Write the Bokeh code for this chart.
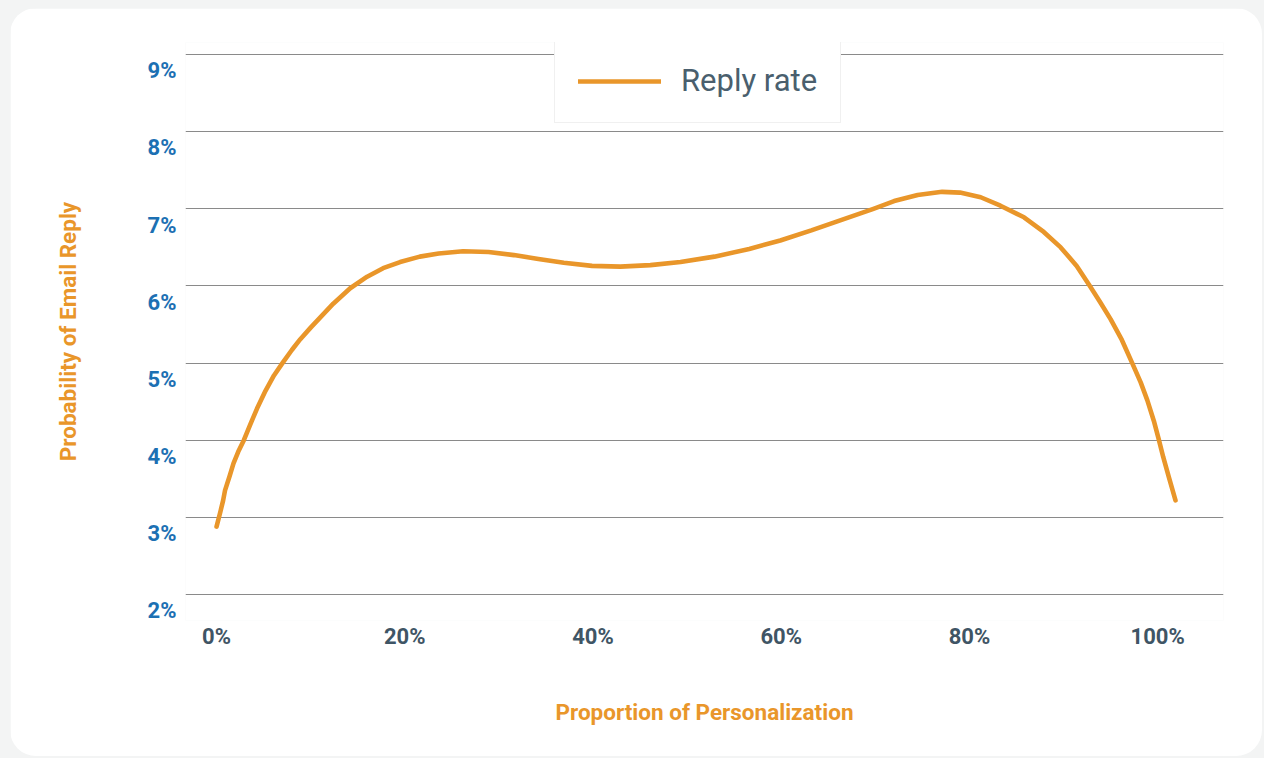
from bokeh.plotting import figure
from bokeh.models import Range1d, FixedTicker, Legend, LegendItem
from bokeh.embed import file_html
from bokeh.resources import INLINE

# Data (proportion of personalization %, reply probability %)
personalization = [0.0, 0.4, 0.7, 0.9, 1.4, 1.8, 2.3, 2.9, 3.6, 4.3, 5.2, 6.1, 7.0,
                   8.0, 8.9, 10.0, 11.0, 12.4, 14.2, 16.0, 17.7, 19.5, 21.6,
                   23.6, 26.2, 28.9, 31.6, 34.2, 36.9, 39.9, 42.9, 46.1, 49.3,
                   52.9, 56.6, 59.9, 63.2, 66.5, 69.8, 72.0, 74.5, 77.1, 79.0, 81.2,
                   83.3, 85.8, 87.9, 89.7, 91.4, 92.8, 93.9, 95.0, 96.2, 97.3,
                   98.2, 98.9, 99.6, 100.1, 100.6, 101.2, 101.9]
reply_rate = [2.88, 3.07, 3.22, 3.35, 3.54, 3.70, 3.85, 4.00, 4.21, 4.41, 4.64, 4.84, 5.00,
              5.17, 5.31, 5.46, 5.59, 5.77, 5.97, 6.12, 6.23, 6.31, 6.38,
              6.42, 6.45, 6.44, 6.40, 6.35, 6.30, 6.26, 6.25, 6.27, 6.31,
              6.38, 6.48, 6.59, 6.72, 6.86, 7.00, 7.10, 7.18, 7.22, 7.21, 7.15,
              7.04, 6.89, 6.70, 6.50, 6.26, 6.00, 5.79, 5.57, 5.30, 5.00,
              4.75, 4.52, 4.25, 4.02, 3.78, 3.52, 3.22]

x_ticks = [0, 20, 40, 60, 80, 100]
x_tick_labels = ["0%", "20%", "40%", "60%", "80%", "100%"]
y_ticks = [2, 3, 4, 5, 6, 7, 8, 9]
y_tick_labels = ["2%", "3%", "4%", "5%", "6%", "7%", "8%", "9%"]
# in the reference each y label sits a little below its grid line
y_label_drop = 0.21

ORANGE = "#E9962A"
BLUE = "#1C70B3"
SLATE = "#3F5565"
FONT = "Roboto"

p = figure(width=1252, height=748, output_backend="svg", toolbar_location=None,
           x_range=Range1d(-3.3, 107.0), y_range=Range1d(1.663, 9.156),
           min_border_left=175, min_border_top=34, min_border_right=39,
           min_border_bottom=136)
p.margin = (8, 2, 2, 10)

p.background_fill_color = "white"
p.border_fill_color = "white"
p.outline_line_color = None
p.styles = {"border-radius": "26px", "overflow": "hidden"}

r = p.line(personalization, reply_rate, line_width=4.6, color=ORANGE,
           line_cap="round", line_join="round")

# grid at the true tick values
p.xgrid.grid_line_color = None
p.ygrid.ticker = FixedTicker(ticks=y_ticks)
p.ygrid.grid_line_color = "#8a8a8a"
p.ygrid.grid_line_width = 1

# x axis
p.xaxis.ticker = FixedTicker(ticks=x_ticks)
p.xaxis.major_label_overrides = dict(zip(x_ticks, x_tick_labels))
p.xaxis.axis_line_color = None
p.xaxis.major_tick_line_color = None
p.xaxis.minor_tick_line_color = None
p.xaxis.major_tick_out = 0
p.xaxis.major_tick_in = 0
p.xaxis.major_label_standoff = 3
p.xaxis.major_label_text_font = FONT
p.xaxis.major_label_text_font_style = "bold"
p.xaxis.major_label_text_font_size = "22px"
p.xaxis.major_label_text_color = SLATE
p.xaxis.axis_label = "Proportion of Personalization"
p.xaxis.axis_label_text_font = FONT
p.xaxis.axis_label_text_font_style = "bold"
p.xaxis.axis_label_text_font_size = "22.5px"
p.xaxis.axis_label_text_color = ORANGE
p.xaxis.axis_label_standoff = 47

# y axis: labels placed slightly below grid lines as in the reference
y_label_pos = [t - y_label_drop for t in y_ticks]
p.yaxis.ticker = FixedTicker(ticks=y_label_pos)
p.yaxis.major_label_overrides = dict(zip(y_label_pos, y_tick_labels))
p.yaxis.axis_line_color = None
p.yaxis.major_tick_line_color = None
p.yaxis.minor_tick_line_color = None
p.yaxis.major_tick_out = 0
p.yaxis.major_tick_in = 0
p.yaxis.major_label_standoff = 9
p.yaxis.major_label_text_font = FONT
p.yaxis.major_label_text_font_style = "bold"
p.yaxis.major_label_text_font_size = "22px"
p.yaxis.major_label_text_color = BLUE
p.yaxis.axis_label = "Probability of Email Reply"
p.yaxis.axis_label_text_font = FONT
p.yaxis.axis_label_text_font_style = "bold"
p.yaxis.axis_label_text_font_size = "22.5px"
p.yaxis.axis_label_text_color = ORANGE
p.yaxis.axis_label_standoff = 64

legend = Legend(items=[LegendItem(label="Reply rate", renderers=[r])],
                location=(369, 497), orientation="horizontal",
                padding=23, margin=0, spacing=0,
                glyph_width=83, glyph_height=34, label_height=34,
                label_standoff=20,
                label_text_font=FONT, label_text_font_size="31px",
                label_text_color="#4A5F6E",
                border_line_color="#e2e2e2", border_line_width=1,
                background_fill_color="white",
                background_fill_alpha=1.0)
p.add_layout(legend, "center")

html = file_html(p, INLINE, title="Reply rate")
html = html.replace("</head>",
                    "<style>html, body { background-color: #f3f4f4 !important; }</style></head>", 1)
open("out.html", "w").write(html)
